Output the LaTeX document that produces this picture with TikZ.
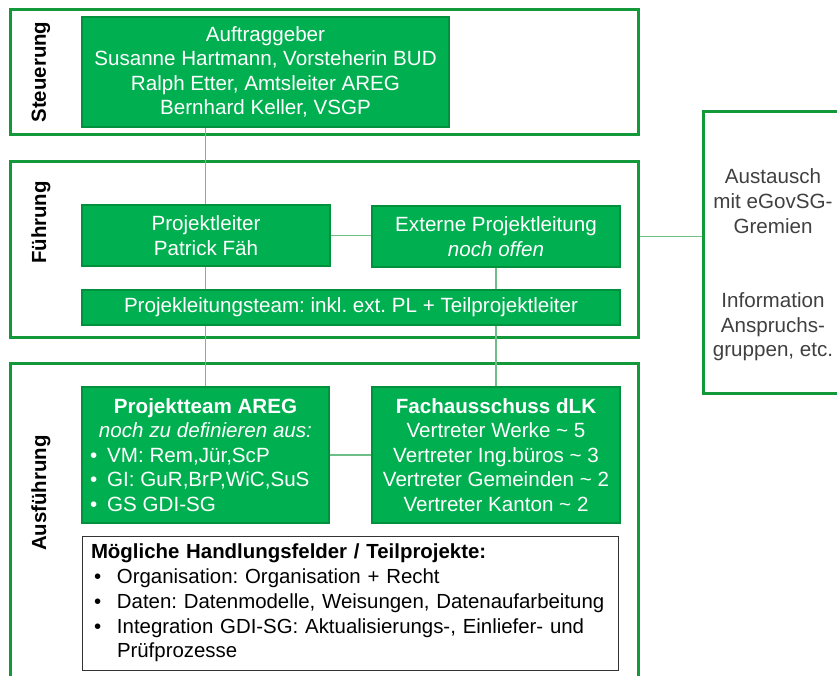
\documentclass[tikz,border=0pt]{standalone}
\usepackage{fontspec}
\setmainfont{Liberation Sans}
\definecolor{gfill}{HTML}{00B050}
\definecolor{gedge}{HTML}{00913C}
\definecolor{oedge}{HTML}{14993A}
\definecolor{conncol}{HTML}{6DBF85}
\definecolor{graytext}{HTML}{404040}
\begin{document}
\frenchspacing
\begin{tikzpicture}[x=1pt,y=-1pt,
  outerbox/.style={draw=oedge,line width=3pt,fill=white,inner sep=0pt},
  gbox/.style={draw=gedge,line width=1.8pt,fill=gfill,text=white,inner sep=0pt,align=center,font=\fontsize{20.6}{24.5}\selectfont},
  wbox/.style={draw=black!80,line width=1pt,fill=white,text=black,inner sep=0pt,align=left,font=\fontsize{20.4}{24.8}\selectfont},
  conn/.style={draw=conncol,line width=1.2pt},
  lbl/.style={rotate=90,font=\bfseries\fontsize{20.4}{24}\selectfont,inner sep=0pt,text=black},
  sidetext/.style={align=center,text=graytext,inner sep=0pt,font=\fontsize{20.6}{24.7}\selectfont}]
\useasboundingbox (0,0) rectangle (837,676);
\clip (0,0) rectangle (837,676);
\fill[white] (0,0) rectangle (837,676);

% outer section boxes
\node[outerbox,minimum width=628pt,minimum height=125pt] (st) at (324,72.5) {};
\node[outerbox,minimum width=628pt,minimum height=175pt] (fu) at (324,249.5) {};
\node[outerbox,minimum width=628pt,minimum height=357pt] (au) at (324,541.5) {};
\node[outerbox,minimum width=140pt,minimum height=281pt] (ext) at (773,252.5) {};

% section labels
\node[lbl] (lst) at (41,72) {Steuerung};
\node[lbl] (lfu) at (41,222.5) {Führung};
\node[lbl] (lau) at (41,493) {Ausführung};

% connectors (behind boxes)
\coordinate (lx) at (205.5,0);
\coordinate (rx) at (496,0);
\draw[conn] (lx |- 0,127) coordinate (c1) -- (lx |- 0,387) coordinate (c2);
\draw[conn] (rx |- 0,267) coordinate (c3) -- (rx |- 0,387) coordinate (c4);

% green boxes
\node[gbox,minimum width=367pt,minimum height=110pt] (auf) at (265.5,72)
  {Auftraggeber\\Susanne Hartmann, Vorsteherin BUD\\Ralph Etter, Amtsleiter AREG\\Bernhard Keller, VSGP};
\node[gbox,minimum width=248pt,minimum height=61pt] (pl) at (206,235.5)
  {Projektleiter\\Patrick Fäh};
\node[gbox,minimum width=248pt,minimum height=61pt] (ex) at (496,236.5)
  {Externe Projektleitung\\\textit{noch offen}};
\node[gbox,minimum width=538pt,minimum height=35pt] (team) at (351,307.5)
  {Projekleitungsteam: inkl. ext. PL + Teilprojektleiter};
\node[gbox,minimum width=247pt,minimum height=136pt] (pt) at (205.5,455)
  {\textbf{Projektteam AREG}\\\textit{noch zu definieren aus:}\\
   \makebox[231pt][l]{\textbullet\hspace{10pt}VM: Rem,Jür,ScP}\\
   \makebox[231pt][l]{\textbullet\hspace{10pt}GI: GuR,BrP,WiC,SuS}\\
   \makebox[231pt][l]{\textbullet\hspace{10pt}GS GDI-SG}};
\node[gbox,minimum width=248pt,minimum height=136pt] (fa) at (496,455)
  {\textbf{Fachausschuss dLK}\\Vertreter Werke \textasciitilde{} 5\\Vertreter Ing.büros \textasciitilde{} 3\\Vertreter Gemeinden \textasciitilde{} 2\\Vertreter Kanton \textasciitilde{} 2};

\node[wbox,minimum width=536pt,minimum height=134pt,text width=518pt] (hf) at (350,603)
  {\mbox{\textbf{Mögliche Handlungsfelder / Teilprojekte:}}\\
   \mbox{\makebox[26pt][l]{\hspace{3pt}\textbullet}Organisation: Organisation + Recht}\\
   \mbox{\makebox[26pt][l]{\hspace{3pt}\textbullet}Daten: Datenmodelle, Weisungen, Datenaufarbeitung}\\
   \mbox{\makebox[26pt][l]{\hspace{3pt}\textbullet}Integration GDI-SG: Aktualisierungs-, Einliefer- und}\\
   \mbox{\hspace*{26pt}Prüfprozesse}};

% horizontal connectors
\draw[conn] (pl.east) -- (ex.west |- pl.east);
\draw[conn] (pt.east) -- (fa.west);
\draw[conn] (fu.east |- ex.east) -- (ext.west |- ex.east);

% side text
\node[sidetext] (sidet) at (773,265)
  {Austausch\\mit eGovSG-\\Gremien\\[49.5pt]Information\\Anspruchs-\\gruppen, etc.};
\end{tikzpicture}
\end{document}
